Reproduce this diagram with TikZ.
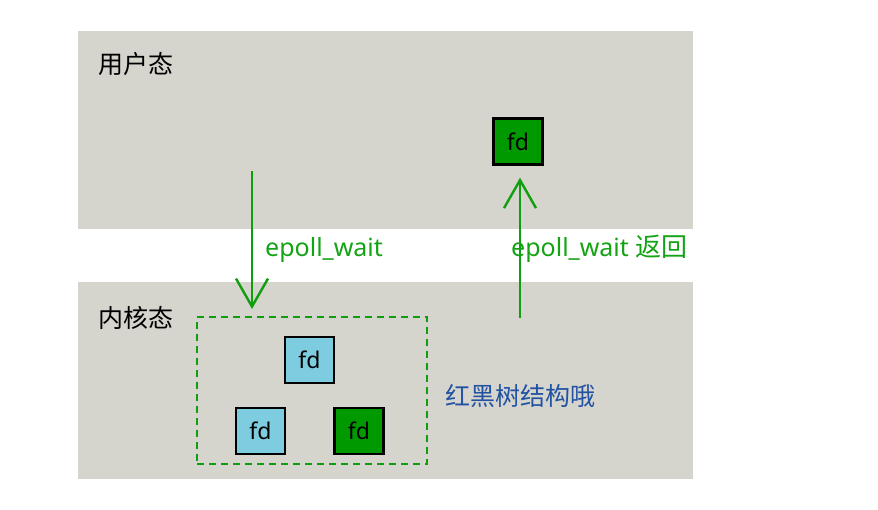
\documentclass[tikz,border=0pt]{standalone}
\usepackage{fontspec}
\setmainfont{Noto Sans}
\newfontfamily\cjk{Noto Sans CJK SC}
\usetikzlibrary{arrows.meta}
\definecolor{panelgray}{HTML}{D6D5CD}
\definecolor{fdblue}{HTML}{7ECCE0}
\definecolor{fdgreen}{HTML}{009A00}
\definecolor{linegreen}{HTML}{0E9E0E}
\definecolor{txtgreen}{HTML}{14A314}
\definecolor{txtblue}{HTML}{2152A3}
\tikzset{
  panel/.style={fill=panelgray, draw=none},
  fdbox/.style={draw=black, line width=2.4pt, minimum width=49pt, minimum height=46pt, inner sep=0pt, font=\fontsize{23}{26}\selectfont},
  lbl/.style={inner sep=0pt, font=\fontsize{25}{28}\selectfont},
  garrow/.style={draw=linegreen, line width=2.4pt, -{Straight Barb[length=28pt,width=32pt,line width=2.4pt]}},
  dashbox/.style={draw=linegreen, line width=2.4pt, dash pattern=on 7pt off 5pt}
}
\begin{document}
\begin{tikzpicture}[x=1pt,y=-1pt]
\useasboundingbox (0,0) rectangle (878,510);
\fill[white] (0,0) rectangle (878,510);
% panels
\path[panel] (78,31) rectangle (693,229);
\path[panel] (78,282) rectangle (693,479);
% labels
\node[lbl, anchor=west] (user) at (98,64) {\cjk 用户态};
\node[lbl, anchor=west] (kern) at (98,318) {\cjk 内核态};
% dashed box
\node[dashbox, minimum width=230pt, minimum height=147pt, inner sep=0pt] (tree) at (312,390.5) {};
% fd boxes
\node[fdbox, fill=fdgreen] (fdtop) at (518,141.5) {fd};
\node[fdbox, fill=fdblue] (fd1) at (309.5,360) {fd};
\node[fdbox, fill=fdblue] (fd2) at (260.5,431) {fd};
\node[fdbox, fill=fdgreen] (fd3) at (359,431) {fd};
% arrows
\coordinate (dstart) at (252,171);
\coordinate (dend) at (252,309);
\coordinate (ustart) at (520,318);
\draw[garrow] (dstart) -- (dend);
\draw[garrow, shorten >=12pt] (ustart) -- (ustart |- fdtop.south);
% arrow labels
\node[lbl, anchor=base west, text=txtgreen] (lw) at (265,257) {epoll\_wait};
\node[lbl, anchor=base west, text=txtgreen] (lr) at (511,257) {epoll\_wait {\cjk\fontsize{26}{28}\selectfont 返回}};
\node[lbl, anchor=west, text=txtblue] (rb) at (445,396) {\cjk 红黑树结构哦};
\end{tikzpicture}
\end{document}
